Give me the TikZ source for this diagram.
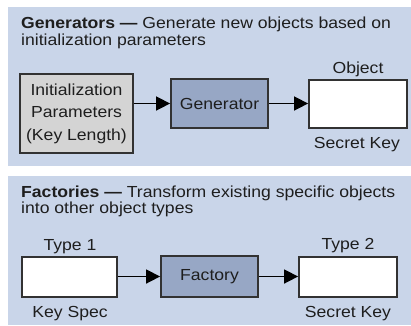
\documentclass[tikz,border=0pt]{standalone}
\usepackage{fontspec}
\setmainfont{Liberation Sans}[FakeStretch=1.1]
\usetikzlibrary{arrows.meta}
\definecolor{panelbg}{RGB}{201,213,233}
\definecolor{procfill}{RGB}{151,167,197}
\definecolor{initfill}{RGB}{212,212,212}
\definecolor{edgegray}{RGB}{50,50,50}
\definecolor{txtgray}{RGB}{30,30,30}
\begin{document}
\begin{tikzpicture}[x=1pt,y=-1pt,
  every node/.style={font=\fontsize{16}{18}\selectfont, text=txtgray, inner sep=0pt},
  panel/.style={fill=panelbg, draw=none},
  boxbase/.style={draw=edgegray, line width=1.8pt, rectangle, anchor=center},
  objbox/.style={boxbase, fill=white},
  procbox/.style={boxbase, fill=procfill},
  initbox/.style={boxbase, fill=initfill, align=center, font=\fontsize{16}{22.5}\selectfont},
  lbl/.style={anchor=base},
  ttl/.style={anchor=base west},
  conn/.style={draw=black, line width=1.6pt, -{Triangle[length=14pt,width=14pt]}}
]
\useasboundingbox (0,0) rectangle (411,325);
\fill[white] (0,0) rectangle (411,325);
% panels
\path[panel] (8,7) rectangle (411,166);
\path[panel] (8,176) rectangle (411,325);

% Generators panel
\node[ttl] (gt1) at (21,28) {\textbf{Generators —} Generate new objects based on};
\node[ttl] (gt2) at (21,45) {initialization parameters};
\node[initbox, minimum width=113pt, minimum height=79pt] (init) at (76.5,113.5)
  {Initialization\\Parameters\\(Key Length)};
\node[procbox, minimum width=97pt, minimum height=49pt] (gen) at (219.5,103.5) {Generator};
\node[objbox, minimum width=98pt, minimum height=48pt] (obj) at (358,104) {};
\node[lbl] (objlbl) at (358,73) {Object};
\node[lbl] (sk1) at (357,148) {Secret Key};
\draw[conn] (init.east |- gen.west) -- (gen.west);
\draw[conn] (gen.east) -- (obj.west |- gen.east);

% Factories panel
\node[ttl] (ft1) at (21,197) {\textbf{Factories —} Transform existing specific objects};
\node[ttl] (ft2) at (21,213) {into other object types};
\node[objbox, minimum width=95pt, minimum height=40pt] (t1) at (69.5,277) {};
\node[procbox, minimum width=97pt, minimum height=41pt] (fac) at (209.5,276.5) {Factory};
\node[objbox, minimum width=98pt, minimum height=40pt] (t2) at (348,277) {};
\node[lbl] (t1lbl) at (70,250) {Type 1};
\node[lbl] (kslbl) at (70,317) {Key Spec};
\node[lbl] (t2lbl) at (348,249) {Type 2};
\node[lbl] (sk2) at (348,317) {Secret Key};
\draw[conn] (t1.east |- fac.west) -- (fac.west);
\draw[conn] (fac.east) -- (t2.west |- fac.east);
\end{tikzpicture}
\end{document}
